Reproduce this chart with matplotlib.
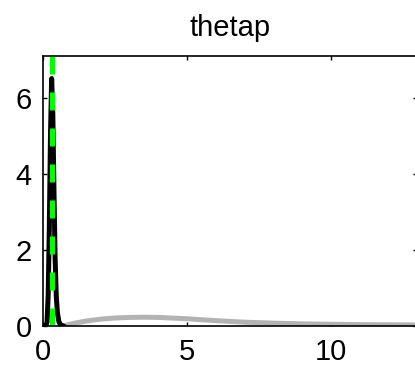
import matplotlib
matplotlib.use('Agg')
import matplotlib.pyplot as plt

plt.rcParams['font.family'] = ['Liberation Sans', 'DejaVu Sans']

# posterior density
post_x = [0.10, 0.14, 0.18, 0.22, 0.26, 0.30, 0.34, 0.38, 0.42, 0.46, 0.50, 0.55, 0.60, 0.70]
post_y = [0.00, 0.10, 0.80, 2.60, 5.00, 6.50, 5.60, 3.60, 1.80, 0.80, 0.35, 0.12, 0.04, 0.00]

# prior density
prior_x = [0.6, 0.8, 1.0, 1.5, 2.0, 2.5, 3.0, 3.5, 4.0, 5.0, 6.0, 7.0, 8.0, 9.0, 10.0, 11.0, 12.0, 13.5]
prior_y = [0.0, 0.02, 0.06, 0.13, 0.18, 0.21, 0.225, 0.23, 0.225, 0.19, 0.14, 0.10, 0.075, 0.055, 0.045, 0.037, 0.031, 0.026]

mode = 0.30
title = 'thetap'
xticks = [0, 5, 10]
yticks = [0, 2, 4, 6]

fig = plt.figure(figsize=(4.15, 3.72), dpi=100)
ax = fig.add_axes([0.1036, 0.1237, 0.9024, 0.7266])

ax.plot(prior_x, prior_y, color=(0.7, 0.7, 0.7), lw=3.6, solid_capstyle='butt')
ax.plot(post_x, post_y, color='black', lw=3.6)
ax.axvline(mode, color=(0.0, 1.0, 0.0), lw=3.6, dashes=(3.6, 3.6))

ax.set_xlim(0, 13)
ax.set_ylim(0, 7.1)
ax.set_xticks(xticks)
ax.set_yticks(yticks)
ax.tick_params(direction='in', length=3, width=1, top=True, right=True,
               labelsize=21)
ax.tick_params(axis='x', pad=9)
ax.tick_params(axis='y', pad=8)
for s in ax.spines.values():
    s.set_linewidth(1.2)

ax.set_title(title, fontsize=21, pad=14)

fig.savefig('out.png', dpi=100)
